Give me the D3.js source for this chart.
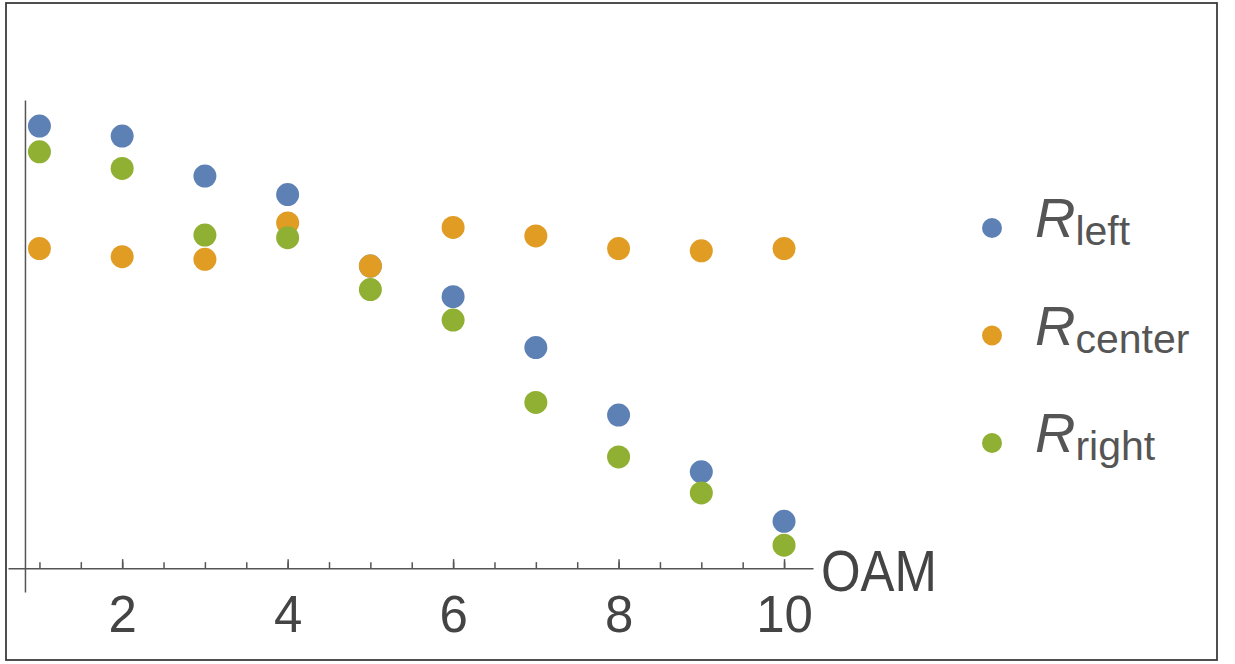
<!DOCTYPE html>
<html>
<head>
<meta charset="utf-8">
<script src="https://cdn.jsdelivr.net/npm/d3@7"></script>
<style>
  html, body { margin: 0; padding: 0; background: #fff; }
  svg { display: block; }
</style>
</head>
<body>
<svg id="chart" width="1235" height="664"></svg>
<script>
// ---- data ----
const oam = [1, 2, 3, 4, 5, 6, 7, 8, 9, 10];
const rLeft   = [98.2, 96.0, 87.1, 83.0, 67.1, 60.3, 49.0, 34.0, 21.4, 10.4];
const rCenter = [71.0, 69.2, 68.6, 76.7, 67.1, 75.7, 73.8, 71.0, 70.5, 71.0];
const rRight  = [92.5, 88.8, 74.0, 73.4, 61.9, 55.1, 36.8, 24.7, 16.7, 5.1];
const seriesNames = ["left", "center", "right"];
const seriesColors = ["#5E81B5", "#E19C24", "#8FB032"];
const majorTicks = [2, 4, 6, 8, 10];
const minorTicks = [1, 1.5, 2, 2.5, 3, 3.5, 4, 4.5, 5, 5.5, 6, 6.5, 7, 7.5, 8, 8.5, 9, 9.5, 10];
const xAxisLabel = "OAM";

const series = [rLeft, rCenter, rRight];

const svg = d3.select("#chart");

// frame
svg.append("rect")
  .attr("x", 6).attr("y", 3)
  .attr("width", 1211).attr("height", 657)
  .attr("fill", "none").attr("stroke", "#3c3c3c").attr("stroke-width", 1.8);

const x = d3.scaleLinear().domain([0.62, 10.35]).range([8, 813]);
const y = d3.scaleLinear().domain([-5.3, 104]).range([592, 100]);

const axisColor = "#555";

// x axis: minor ticks
const gx = svg.append("g").attr("transform", `translate(0,${y(0)})`);
gx.call(d3.axisBottom(x).tickValues(minorTicks).tickSizeInner(-6).tickSizeOuter(0).tickFormat(""));
// major ticks with labels
const gx2 = svg.append("g").attr("transform", `translate(0,${y(0)})`);
gx2.call(d3.axisBottom(x).tickValues(majorTicks).tickSizeInner(-9).tickSizeOuter(0).tickPadding(28).tickFormat(d3.format("d")));
gx2.select(".domain").remove();
[gx, gx2].forEach(g => {
  g.selectAll("path,line").attr("stroke", axisColor).attr("stroke-width", 1.5);
  g.selectAll("text")
    .attr("font-family", "Liberation Sans, Arial, sans-serif")
    .attr("font-size", 51)
    .attr("fill", "#444");
});

// y axis (no ticks)
const gy = svg.append("g").attr("transform", `translate(${x(0.825)},0)`);
gy.call(d3.axisLeft(y).tickValues([]).tickSizeOuter(0));
gy.selectAll("path").attr("stroke", axisColor).attr("stroke-width", 1.5);

// axis label
svg.append("text")
  .attr("x", x(10.35) + 8).attr("y", y(0) + 23)
  .attr("font-family", "Liberation Sans, Arial, sans-serif")
  .attr("font-size", 58)
  .attr("textLength", 116).attr("lengthAdjust", "spacingAndGlyphs")
  .attr("fill", "#444")
  .text(xAxisLabel);

// points
series.forEach((vals, si) => {
  svg.append("g")
    .selectAll("circle")
    .data(vals.map((v, i) => ({ x: oam[i], y: v })))
    .join("circle")
    .attr("cx", d => x(d.x))
    .attr("cy", d => y(d.y))
    .attr("r", 11.5)
    .attr("fill", seriesColors[si]);
});

// legend
const legendY = d3.scalePoint().domain(seriesNames).range([228, 443]);
const lg = svg.append("g");
seriesNames.forEach((name, i) => {
  const cy = legendY(name);
  lg.append("circle").attr("cx", 992).attr("cy", cy).attr("r", 10).attr("fill", seriesColors[i]);
  const t = lg.append("text")
    .attr("x", 1035).attr("y", cy + 9)
    .attr("font-family", "Liberation Sans, Arial, sans-serif")
    .attr("fill", "#555");
  t.append("tspan").attr("font-size", 56).attr("font-style", "italic").text("R");
  t.append("tspan").attr("font-size", 41).attr("dy", 8).text(name);
});
</script>
</body>
</html>
